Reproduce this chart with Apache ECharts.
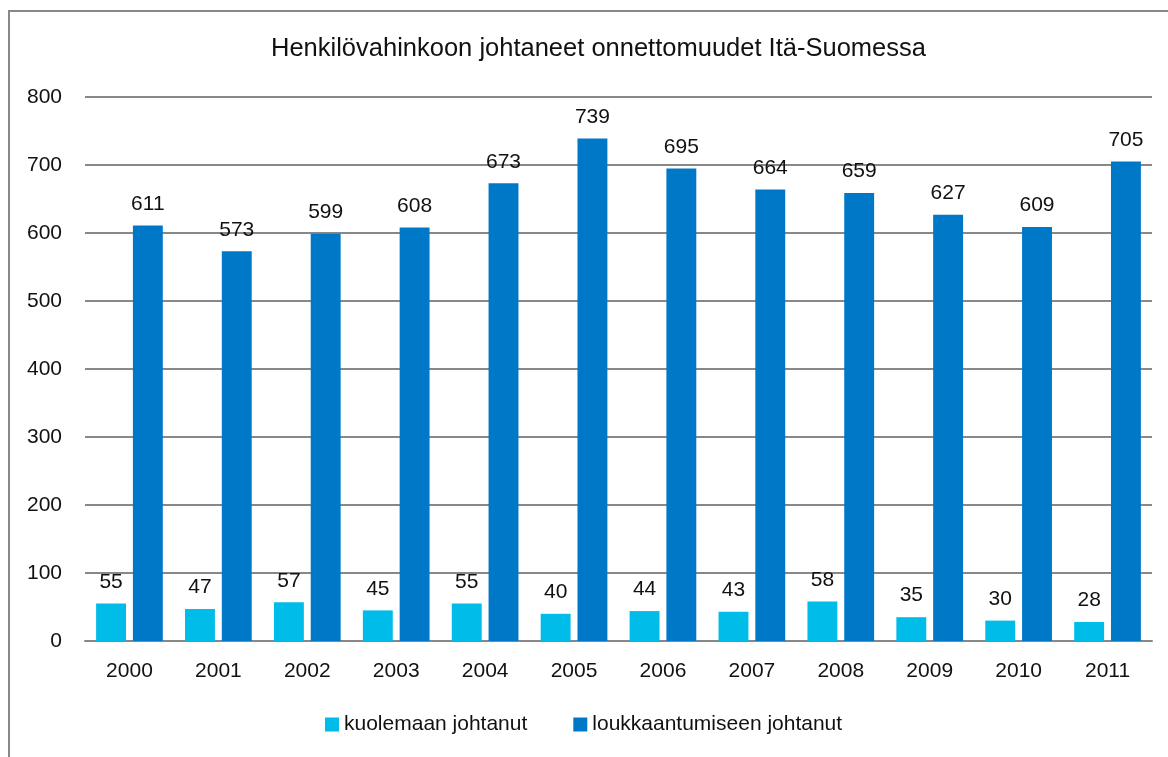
<!DOCTYPE html>
<html>
<head>
<meta charset="utf-8">
<script src="https://cdn.jsdelivr.net/npm/echarts@6/dist/echarts.min.js"></script>
<style>html,body{margin:0;padding:0;background:#fff;}#c{width:1168px;height:757px;}</style>
</head>
<body>
<div id="c"></div>
<script>
const categories = ['2000','2001','2002','2003','2004','2005','2006','2007','2008','2009','2010','2011'];
const kuolemaan = [55,47,57,45,55,40,44,43,58,35,30,28];
const loukkaantumiseen = [611,573,599,608,673,739,695,664,659,627,609,705];
const seriesNames = ['kuolemaan johtanut','loukkaantumiseen johtanut'];
const titleText = 'Henkilövahinkoon johtaneet onnettomuudet Itä-Suomessa';

const font = 'Liberation Sans';
const chart = echarts.init(document.getElementById('c'));
const labelStyle = {show:true, position:'top', distance:11, color:'#111', fontSize:21, fontFamily:font};
chart.setOption({
  animation:false,
  title:{text:titleText, left:266, top:31, textStyle:{fontFamily:font, fontSize:25.5, fontWeight:'normal', color:'#111'}},
  graphic:[{type:'rect', shape:{x:9, y:11, width:1200, height:800}, style:{fill:'none', stroke:'#888', lineWidth:2}}],
  legend:{bottom:17, left:320, itemWidth:14, itemHeight:14, itemGap:46,
    textStyle:{fontFamily:font, fontSize:21, color:'#111'}, data:seriesNames, icon:'rect'},
  grid:{left:85, right:16, top:97, bottom:116, containLabel:false},
  xAxis:{type:'category', data:categories, axisTick:{show:false},
    axisLine:{lineStyle:{color:'#888', width:2}},
    axisLabel:{fontFamily:font, fontSize:21, color:'#111', margin:20}},
  yAxis:{type:'value', min:0, max:800, interval:100,
    axisLine:{show:false}, axisTick:{show:false},
    splitLine:{lineStyle:{color:'#888', width:2}},
    axisLabel:{fontFamily:font, fontSize:21, color:'#111', margin:23}},
  series:[
    {name:seriesNames[0], type:'bar', data:kuolemaan, barGap:'23%', barCategoryGap:'25%',
      itemStyle:{color:'#00BCE8'}, label:labelStyle},
    {name:seriesNames[1], type:'bar', data:loukkaantumiseen, barGap:'23%', barCategoryGap:'25%',
      itemStyle:{color:'#0078C8'}, label:labelStyle}
  ]
});
</script>
</body>
</html>
